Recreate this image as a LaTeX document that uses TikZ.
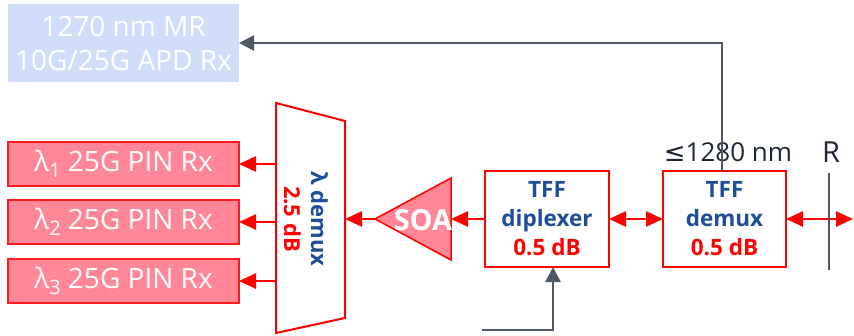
\documentclass[tikz,border=0pt]{standalone}
\usepackage{fontspec}
\setmainfont{Open Sans}
\newfontfamily\dvfont{DejaVu Sans}
\usetikzlibrary{arrows.meta}
\definecolor{redl}{HTML}{FF0000}
\definecolor{pinkf}{HTML}{FF8797}
\definecolor{bluef}{HTML}{D0DEFB}
\definecolor{bluet}{HTML}{1F4E99}
\definecolor{grayl}{HTML}{4F5966}
\definecolor{darkt}{HTML}{1E2838}
\begin{document}
\begin{tikzpicture}[x=1pt,y=-1pt,
  rxbox/.style={draw=redl!80!pinkf, line width=1.5pt, fill=pinkf, inner sep=0pt, outer sep=0pt,
    minimum width=231pt, minimum height=44pt, anchor=north west, text=white,
    font=\fontsize{28}{30}\selectfont},
  tffbox/.style={draw=redl, line width=1.5pt, fill=white, inner sep=0pt, outer sep=0pt,
    minimum height=96pt, anchor=north west, align=center,
    font=\fontsize{22.5}{29}\selectfont\bfseries},
  rarr/.style={draw=redl, line width=2.6pt, -{Triangle[length=17pt,width=15pt]}},
  rdarr/.style={draw=redl, line width=2.6pt, {Triangle[length=17pt,width=15pt]}-{Triangle[length=17pt,width=15pt]}},
  garr/.style={draw=grayl, line width=2.6pt, -{Triangle[length=15pt,width=15pt]}}
]
\useasboundingbox (0,0) rectangle (854,335);

% top APD receiver
\node[fill=bluef, inner sep=0pt, outer sep=0pt, minimum width=231pt, minimum height=78pt,
  anchor=north west, text=white, align=center, font=\fontsize{28}{34}\selectfont]
  (apd) at (8,4) {1270 nm MR\\10G/25G APD Rx};

% PIN receivers
\node[rxbox] (rx1) at (8,142) {λ\raisebox{-0.4ex}{\fontsize{20}{20}\selectfont 1} 25G PIN Rx};
\node[rxbox] (rx2) at (8,200) {λ\raisebox{-0.4ex}{\fontsize{20}{20}\selectfont 2} 25G PIN Rx};
\node[rxbox] (rx3) at (8,259) {λ\raisebox{-0.4ex}{\fontsize{20}{20}\selectfont 3} 25G PIN Rx};

% lambda demux trapezoid
\coordinate (dTL) at (276,103);
\coordinate (dBL) at (276,333);
\coordinate (dTR) at (345,121);
\coordinate (dBR) at (345,318);
\draw[draw=redl, line width=2pt, fill=white] (dTL) -- (dTR) -- (dBR) -- (dBL) -- cycle;
\node[rotate=-90, align=center, font=\fontsize{22}{27}\selectfont\bfseries] (dmx) at (306,219)
  {\textcolor{bluet}{λ demux}\\\textcolor{redl}{2.5 dB}};

\draw[rarr] (rx1.east -| dTL) -- (rx1.east);
\draw[rarr] (rx2.east -| dTL) -- (rx2.east);
\draw[rarr] (rx3.east -| dTL) -- (rx3.east);

% SOA triangle
\coordinate (sA) at (375,219);
\coordinate (sT) at (451,178);
\coordinate (sB) at (451,260);
\draw[draw=redl, line width=1.5pt, fill=pinkf] (sA) -- (sT) -- (sB) -- cycle;
\node[text=white, font=\fontsize{29}{30}\selectfont\bfseries, inner sep=0pt] (soa) at (423,220) {SOA};
\draw[rarr] (sA) -- (sA -| dTR);

% TFF boxes
\node[tffbox, minimum width=124pt] (dip) at (485,171)
  {\textcolor{bluet}{TFF}\\\textcolor{bluet}{diplexer}\\\textcolor{redl}{0.5 dB}};
\node[tffbox, minimum width=123pt] (tdm) at (663,171)
  {\textcolor{bluet}{TFF}\\\textcolor{bluet}{demux}\\\textcolor{redl}{0.5 dB}};

\draw[rarr] (dip.west) -- (dip.west -| sT);
\draw[rdarr] (dip.east) -- (tdm.west);
\coordinate (rEnd) at (853,219);
\draw[rdarr] (tdm.east) -- (rEnd);

% reference point R
\coordinate (rT) at (829,173);
\coordinate (rB) at (829,270);
\draw[draw=grayl, line width=1.2pt] (rT) -- (rB);
\node[text=darkt, font=\fontsize{29}{30}\selectfont, inner sep=0pt] (rlab) at (831,152) {R};
\node[text=darkt, font=\fontsize{26}{30}\selectfont, inner sep=0pt] (wl) at (728,152)
  {{\dvfont ≤}1280 nm};

% gray paths
\coordinate (gUp) at (722,43);
\draw[garr] (gUp |- tdm.north) -- (gUp) -- (apd.east);
\coordinate (gIn) at (482,330);
\coordinate (gCn) at (553,330);
\draw[garr] (gIn) -- (gCn) -- (gCn |- dip.south);
\end{tikzpicture}
\end{document}
